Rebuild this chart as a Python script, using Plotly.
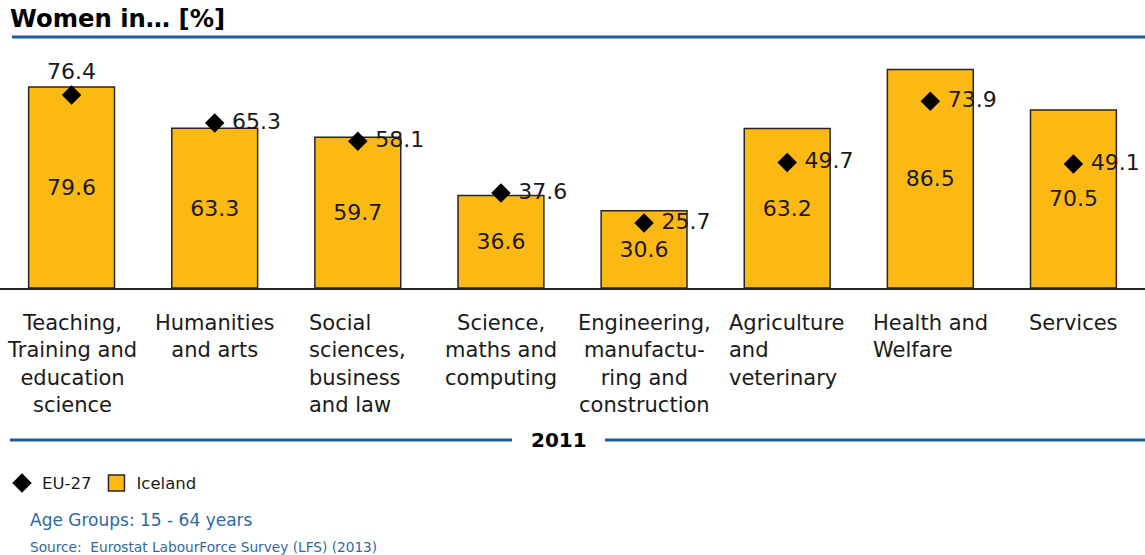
import plotly.graph_objects as go

categories = ["Teaching,<br>Training and<br>education<br>science",
              "Humanities<br>and arts",
              "Social<br>sciences,<br>business<br>and law",
              "Science,<br>maths and<br>computing",
              "Engineering,<br>manufactu-<br>ring and<br>construction",
              "Agriculture<br>and<br>veterinary",
              "Health and<br>Welfare",
              "Services"]
label_align = ["center", "center", "left", "center", "center", "left", "left", "center"]
iceland = [79.6, 63.3, 59.7, 36.6, 30.6, 63.2, 86.5, 70.5]
eu27 = [76.4, 65.3, 58.1, 37.6, 25.7, 49.7, 73.9, 49.1]
year_label = "2011"

x = list(range(len(categories)))
FONT = "DejaVu Sans, Verdana, sans-serif"
BLUE = "#1f5a9a"
TXT = "#1a1a1a"

fig = go.Figure()
fig.add_trace(go.Bar(
    x=x, y=iceland, name="Iceland", width=0.6, showlegend=False,
    marker=dict(color="#FDB913", line=dict(color="#262626", width=1.5)),
    text=[f"{v:.1f}" for v in iceland], textposition="inside",
    insidetextanchor="middle", textangle=0,
    textfont=dict(size=22, color=TXT, family=FONT),
    hoverinfo="skip",
))
fig.add_trace(go.Scatter(
    x=x, y=eu27, name="EU-27", mode="markers+text",
    marker=dict(symbol="diamond", size=15, color="black"),
    text=[f"{v:.1f}" for v in eu27[:1]] + [f" {v:.1f}" for v in eu27[1:]],
    textposition=["top center"] + ["middle right"] * 7,
    textfont=dict(size=22, color=TXT, family=FONT),
    hoverinfo="skip",
))
# legend entry for Iceland (square swatch)
fig.add_trace(go.Scatter(
    x=[None], y=[None], name="Iceland", mode="markers",
    marker=dict(symbol="square", size=21, color="#FDB913", line=dict(color="#262626", width=1.5)),
    hoverinfo="skip",
))

fig.update_layout(
    width=1145, height=555,
    margin=dict(l=0, r=0, t=40, b=267),
    plot_bgcolor="white", paper_bgcolor="white",
    font=dict(family=FONT, color=TXT),
    showlegend=True,
    legend=dict(orientation="h", x=2/1145, y=-0.787, xanchor="left", yanchor="middle",
                font=dict(size=16.5, family=FONT, color=TXT),
                itemwidth=30),
    xaxis=dict(tickmode="array", tickvals=x, ticktext=[""] * len(x),
               range=[-0.5, 7.5], showgrid=False, zeroline=False,
               showline=True, linecolor="#262626", linewidth=1.5,
               ticks="", fixedrange=True),
    yaxis=dict(range=[0, 98.2], visible=False, fixedrange=True),
    bargap=0.4,
)

for xi, lab, al in zip(x, categories, label_align):
    fig.add_annotation(text=lab, xref="x", yref="paper", x=xi, y=(288-309)/248,
                       xanchor="center", yanchor="top", align=al, showarrow=False,
                       font=dict(size=21, family=FONT, color=TXT))

# Title and decorations
fig.add_annotation(text="<b>Women in… [%]</b>", xref="paper", yref="paper",
                   x=0, y=(288-18)/248, xanchor="left", yanchor="middle", xshift=8,
                   showarrow=False, font=dict(size=24.3, family=FONT, color="black"))
fig.add_shape(type="line", xref="paper", yref="paper", x0=12/1145, x1=1, y0=(288-37)/248, y1=(288-37)/248,
              line=dict(color=BLUE, width=3))
fig.add_shape(type="line", xref="paper", yref="paper", x0=10/1145, x1=512/1145,
              y0=(288-440)/248, y1=(288-440)/248, line=dict(color=BLUE, width=3))
fig.add_shape(type="line", xref="paper", yref="paper", x0=605/1145, x1=1,
              y0=(288-440)/248, y1=(288-440)/248, line=dict(color=BLUE, width=3))
fig.add_annotation(text=f"<b>{year_label}</b>", xref="paper", yref="paper",
                   x=559/1145, y=(288-440)/248, xanchor="center", yanchor="middle",
                   showarrow=False, font=dict(size=20, family=FONT, color="black"))
fig.add_annotation(text="Age Groups: 15 - 64 years", xref="paper", yref="paper",
                   x=28/1145, y=(288-520)/248, xanchor="left", yanchor="middle",
                   showarrow=False, font=dict(size=17, family=FONT, color="#2e68a6"))
fig.add_annotation(text="Source:  Eurostat LabourForce Survey (LFS) (2013)", xref="paper", yref="paper",
                   x=28/1145, y=(288-547)/248, xanchor="left", yanchor="middle",
                   showarrow=False, font=dict(size=13.7, family=FONT, color="#2e68a6"))

fig.write_html("out.html")
